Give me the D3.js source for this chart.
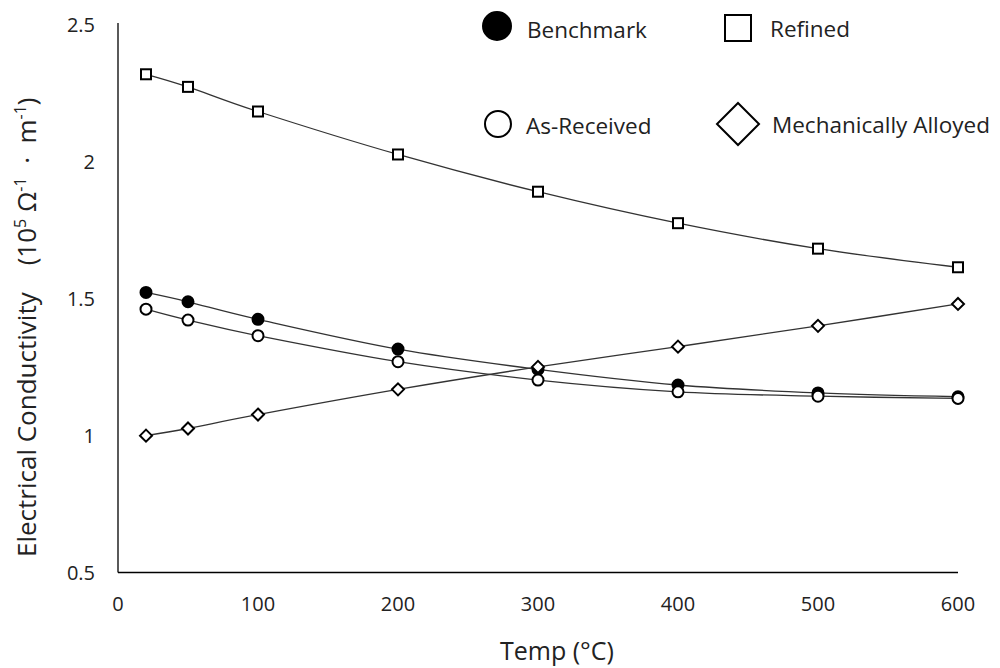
<!DOCTYPE html>
<html>
<head>
<meta charset="utf-8">
<script src="https://cdn.jsdelivr.net/npm/d3@7"></script>
<style>
  html, body { margin: 0; padding: 0; background: #fff; }
  svg { display: block; font-family: "Open Sans", "Noto Sans", sans-serif; }
</style>
</head>
<body>
<svg id="chart" width="1000" height="668"></svg>
<script>
// Data
var temps        = [20, 50, 100, 200, 300, 400, 500, 600];
var benchmark    = [1.523, 1.489, 1.425, 1.316, 1.242, 1.185, 1.156, 1.142];
var asReceived   = [1.462, 1.422, 1.365, 1.270, 1.203, 1.160, 1.144, 1.136];
var refined      = [2.320, 2.274, 2.184, 2.027, 1.891, 1.776, 1.683, 1.615];
var mechAlloyed  = [1.000, 1.026, 1.077, 1.169, 1.251, 1.325, 1.401, 1.481];
var xTicks = [0, 100, 200, 300, 400, 500, 600];
var yTicks = [0.5, 1, 1.5, 2, 2.5];

var series = [
    { name: "Benchmark",            values: benchmark,   marker: "circle",  fill: "#000" },
    { name: "As-Received",          values: asReceived,  marker: "circle",  fill: "#fff" },
    { name: "Refined",              values: refined,     marker: "square",  fill: "#fff" },
    { name: "Mechanically Alloyed", values: mechAlloyed, marker: "diamond", fill: "#fff" }
];

var svg = d3.select("#chart");

// Plot area
var x = d3.scaleLinear().domain([0, 600]).range([118, 958]);
var y = d3.scaleLinear().domain([0.5, 2.5]).range([572.5, 25]);

// Axis lines (left and bottom only, no ticks)
svg.append("line")
    .attr("x1", x(0)).attr("x2", x(0))
    .attr("y1", 23).attr("y2", y(0.5))
    .attr("stroke", "#000").attr("stroke-width", 1.3);
svg.append("line")
    .attr("x1", x(0)).attr("x2", x(600))
    .attr("y1", y(0.5)).attr("y2", y(0.5))
    .attr("stroke", "#000").attr("stroke-width", 1.3);

// Tick labels
svg.append("g").selectAll("text")
    .data(xTicks)
    .enter().append("text")
    .attr("x", d => x(d))
    .attr("y", 611)
    .attr("text-anchor", "middle")
    .style("font-size", "20px")
    .style("fill", "#222")
    .text(d => d);

svg.append("g").selectAll("text")
    .data(yTicks)
    .enter().append("text")
    .attr("x", 95)
    .attr("y", d => y(d) + 7)
    .attr("text-anchor", "end")
    .style("font-size", "20px")
    .style("fill", "#222")
    .text(d => d);

// Axis titles
svg.append("text")
    .attr("x", 500)
    .attr("y", 660)
    .attr("text-anchor", "start")
    .style("font-size", "25px")
    .style("fill", "#222")
    .text("Temp (°C)");

var yTitle = svg.append("text")
    .attr("transform", "translate(36,557) rotate(-90)")
    .attr("text-anchor", "start")
    .style("font-size", "26px")
    .style("fill", "#222")
    .style("white-space", "pre");
yTitle.append("tspan").text("Electrical Conductivity    (10");
yTitle.append("tspan").attr("dy", -10).style("font-size", "16px").text("5");
yTitle.append("tspan").attr("dy", 10).text(" Ω");
yTitle.append("tspan").attr("dy", -10).style("font-size", "16px").text("-1");
yTitle.append("tspan").attr("dy", 10).text("  ·  m");
yTitle.append("tspan").attr("dy", -10).style("font-size", "16px").text("-1");
yTitle.append("tspan").attr("dy", 10).text(")");

// Lines
var line = d3.line()
    .x((d, i) => x(temps[i]))
    .y(d => y(d))
    .curve(d3.curveCatmullRom.alpha(0));

svg.append("g").selectAll("path")
    .data(series)
    .enter().append("path")
    .attr("d", d => line(d.values))
    .attr("fill", "none")
    .attr("stroke", "#333")
    .attr("stroke-width", 1.3);

// Markers
function drawMarker(g, type, cx, cy, size, fill, sw) {
    if (type === "circle") {
        g.append("circle").attr("cx", cx).attr("cy", cy).attr("r", size / 2)
            .attr("fill", fill).attr("stroke", "#000").attr("stroke-width", sw);
    } else if (type === "square") {
        g.append("rect").attr("x", cx - size / 2).attr("y", cy - size / 2)
            .attr("width", size).attr("height", size)
            .attr("fill", fill).attr("stroke", "#000").attr("stroke-width", sw);
    } else {
        var h = size / 2;
        g.append("path")
            .attr("d", "M" + cx + "," + (cy - h) + "L" + (cx + h) + "," + cy +
                       "L" + cx + "," + (cy + h) + "L" + (cx - h) + "," + cy + "Z")
            .attr("fill", fill).attr("stroke", "#000").attr("stroke-width", sw);
    }
}

var markers = svg.append("g");
series.forEach(function(s) {
    var size = s.marker === "square" ? 10 : (s.marker === "diamond" ? 12 : 11);
    s.values.forEach(function(v, i) {
        drawMarker(markers, s.marker, x(temps[i]), y(v), size, s.fill, 2);
    });
});

// Legend
var legendItems = [
    { name: "Benchmark",            marker: "circle",  fill: "#000", mx: 497, my: 26,  size: 28, tx: 527, ty: 38 },
    { name: "Refined",              marker: "square",  fill: "#fff", mx: 738, my: 28,  size: 26, tx: 770, ty: 37 },
    { name: "As-Received",          marker: "circle",  fill: "#fff", mx: 498, my: 124, size: 26, tx: 526, ty: 134 },
    { name: "Mechanically Alloyed", marker: "diamond", fill: "#fff", mx: 738, my: 124, size: 42, tx: 772, ty: 133 }
];
var legend = svg.append("g");
legendItems.forEach(function(d) {
    drawMarker(legend, d.marker, d.mx, d.my, d.size, d.fill, 2);
    legend.append("text")
        .attr("x", d.tx)
        .attr("y", d.ty)
        .style("font-size", "22.5px")
        .style("fill", "#222")
        .text(d.name);
});
</script>
</body>
</html>
